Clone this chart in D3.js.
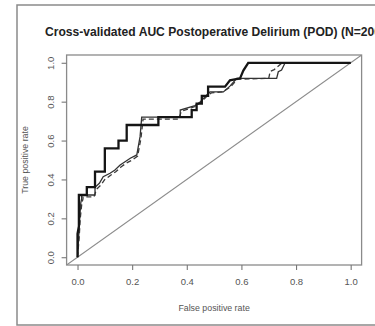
<!DOCTYPE html>
<html>
<head>
<meta charset="utf-8">
<script src="https://cdn.jsdelivr.net/npm/d3@7"></script>
<style>
  html, body { margin: 0; padding: 0; background: #fff; }
  svg { display: block; font-family: "Liberation Sans", Arial, sans-serif; }
</style>
</head>
<body>
<div id="chart"></div>
<script>
// ROC curves (false positive rate, true positive rate)
const thickFpr = [0, 0, 0.005, 0.005, 0.034, 0.034, 0.064, 0.064, 0.10, 0.10, 0.15, 0.15, 0.18, 0.18, 0.296, 0.296, 0.418, 0.418, 0.436, 0.436, 0.455, 0.455, 0.478, 0.478, 0.54, 0.558, 0.595, 0.607, 0.625, 1];
const thickTpr = [0, 0.12, 0.16, 0.32, 0.32, 0.36, 0.36, 0.44, 0.44, 0.56, 0.56, 0.60, 0.60, 0.68, 0.68, 0.72, 0.72, 0.757, 0.757, 0.79, 0.79, 0.83, 0.83, 0.877, 0.877, 0.91, 0.92, 0.96, 1, 1];

const thinFpr = [0, 0.004, 0.008, 0.012, 0.015, 0.015, 0.064, 0.064, 0.08, 0.094, 0.119, 0.137, 0.156, 0.174, 0.193, 0.217, 0.229, 0.235, 0.376, 0.376, 0.43, 0.45, 0.473, 0.485, 0.534, 0.558, 0.583, 0.729, 0.735, 0.747, 0.76, 1];
const thinTpr = [0, 0.1, 0.2, 0.28, 0.30, 0.32, 0.32, 0.36, 0.38, 0.414, 0.432, 0.449, 0.474, 0.491, 0.509, 0.526, 0.62, 0.72, 0.72, 0.757, 0.78, 0.80, 0.834, 0.85, 0.85, 0.88, 0.92, 0.92, 0.954, 0.963, 1, 1];

const dashFpr = [0, 0.006, 0.01, 0.016, 0.02, 0.02, 0.06, 0.07, 0.085, 0.10, 0.125, 0.14, 0.16, 0.18, 0.20, 0.22, 0.232, 0.24, 0.37, 0.38, 0.43, 0.455, 0.475, 0.49, 0.53, 0.56, 0.585, 0.70, 0.705, 0.72, 0.75, 1];
const dashTpr = [0, 0.1, 0.2, 0.28, 0.3, 0.31, 0.31, 0.35, 0.37, 0.40, 0.425, 0.44, 0.465, 0.485, 0.50, 0.52, 0.61, 0.71, 0.71, 0.75, 0.775, 0.80, 0.83, 0.845, 0.85, 0.875, 0.915, 0.92, 0.955, 0.965, 1, 1];

const tickValues = [0, 0.2, 0.4, 0.6, 0.8, 1.0];
const titleText = "Cross-validated AUC Postoperative Delirium (POD) (N=200)";
const xLabel = "False positive rate";
const yLabel = "True positive rate";

const W = 375, H = 326;
const box = { left: 66.6, right: 361.6, top: 55, bottom: 265 };

const svg = d3.select("#chart").append("svg")
  .attr("width", W)
  .attr("height", H);

// outer frame of the figure
svg.append("rect")
  .attr("x", 17).attr("y", 5)
  .attr("width", 420).attr("height", 320)
  .attr("fill", "none")
  .attr("stroke", "#8a8a8a")
  .attr("stroke-width", 1.5);

// R pads the data range by 4% on each side
const x = d3.scaleLinear().domain([-0.04, 1.04]).range([box.left, box.right]);
const y = d3.scaleLinear().domain([-0.04, 1.04]).range([box.bottom, box.top]);

const g = svg.append("g");

svg.append("clipPath").attr("id", "plotclip")
  .append("rect")
  .attr("x", box.left).attr("y", box.top)
  .attr("width", box.right - box.left).attr("height", box.bottom - box.top);

// chance line (abline 0,1) across the whole plot region
g.append("line")
  .attr("clip-path", "url(#plotclip)")
  .attr("x1", x(-0.04)).attr("y1", y(-0.04))
  .attr("x2", x(1.04)).attr("y2", y(1.04))
  .attr("stroke", "#8c8c8c")
  .attr("stroke-width", 1.1);

const line = d3.line()
  .x(d => x(d[0]))
  .y(d => y(d[1]));

const series = [
  { fpr: dashFpr, tpr: dashTpr, width: 1.3, color: "#3a3a3a", dash: "5,3" },
  { fpr: thinFpr, tpr: thinTpr, width: 1.3, color: "#333", dash: null },
  { fpr: thickFpr, tpr: thickTpr, width: 2.3, color: "#151515", dash: null }
];

series.forEach(s => {
  g.append("path")
    .datum(s.fpr.map((f, i) => [f, s.tpr[i]]))
    .attr("d", line)
    .attr("fill", "none")
    .attr("stroke", s.color)
    .attr("stroke-width", s.width)
    .attr("stroke-linejoin", "miter")
    .attr("stroke-dasharray", s.dash);
});

// plot box
g.append("rect")
  .attr("x", box.left).attr("y", box.top)
  .attr("width", box.right - box.left).attr("height", box.bottom - box.top)
  .attr("fill", "none")
  .attr("stroke", "#8a8a8a")
  .attr("stroke-width", 1.3);

// axes, R style: ticks only at data range, outward
const xAxis = svg.append("g")
  .attr("transform", `translate(0,${box.bottom})`)
  .call(d3.axisBottom(x).tickValues(tickValues).tickFormat(d3.format(".1f")).tickSize(5).tickPadding(8));

const yAxis = svg.append("g")
  .attr("transform", `translate(${box.left},0)`)
  .call(d3.axisLeft(y).tickValues(tickValues).tickFormat(d3.format(".1f")).tickSize(5).tickPadding(8));

[xAxis, yAxis].forEach(a => {
  a.select(".domain").remove();
  a.selectAll(".tick line").attr("stroke", "#777").attr("stroke-width", 1.1);
  a.selectAll(".tick text").attr("fill", "#555").style("font-size", "9.5px");
});

yAxis.selectAll(".tick text")
  .attr("x", null).attr("dy", null)
  .attr("text-anchor", "middle")
  .attr("transform", "translate(-16,0) rotate(-90)")
  .attr("dy", "0.35em");

// titles (the reference picture is cropped through the end of the title)
svg.append("text")
  .attr("x", 45).attr("y", 36)
  .attr("fill", "#222")
  .style("font-size", "12.1px")
  .style("font-weight", "bold")
  .text(titleText);

svg.append("text")
  .attr("x", (box.left + box.right) / 2).attr("y", 311)
  .attr("text-anchor", "middle")
  .attr("fill", "#555")
  .style("font-size", "8.8px")
  .text(xLabel);

svg.append("text")
  .attr("transform", `translate(28,${(box.top + box.bottom) / 2}) rotate(-90)`)
  .attr("text-anchor", "middle")
  .attr("fill", "#555")
  .style("font-size", "8.8px")
  .text(yLabel);
</script>
</body>
</html>
